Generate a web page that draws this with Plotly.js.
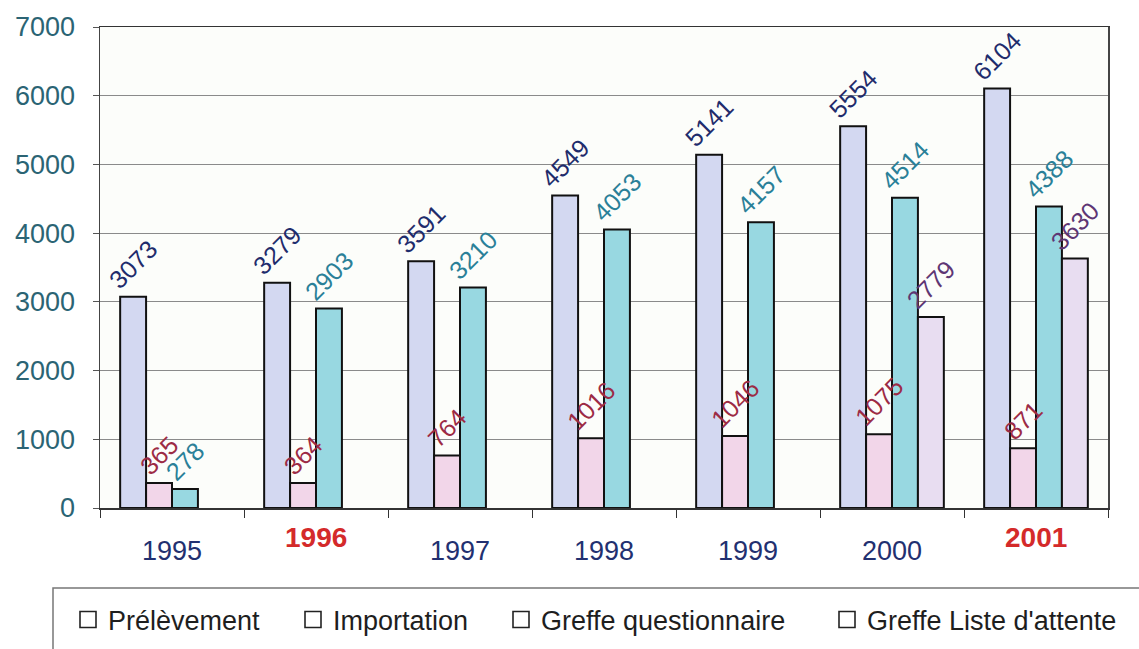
<!DOCTYPE html>
<html>
<head>
<meta charset="utf-8">
<script src="https://cdn.plot.ly/plotly-3.0.1.min.js"></script>
<style>
  html, body { margin: 0; padding: 0; background: #ffffff; }
  #chart { width: 1139px; height: 649px; }
</style>
</head>
<body>
<div id="chart"></div>
<script>
const years = ['1995', '1996', '1997', '1998', '1999', '2000', '2001'];
const highlightedYears = ['1996', '2001'];
const prelevement = [3073, 3279, 3591, 4549, 5141, 5554, 6104];
const importation = [365, 364, 764, 1016, 1046, 1075, 871];
const greffeQuestionnaire = [278, 2903, 3210, 4053, 4157, 4514, 4388];
const greffeListe = [null, null, null, null, null, 2779, 3630];
const seriesNames = ['Prélèvement', 'Importation', 'Greffe questionnaire', "Greffe Liste d'attente"];
const yTicks = [0, 1000, 2000, 3000, 4000, 5000, 6000, 7000];

const FONT = 'Liberation Sans, Arial, Helvetica, sans-serif';

// normal years as tick labels; highlighted years drawn as raised bold annotations
const tickText = years.map(y => highlightedYears.includes(y) ? '' : y);

const fills = ['#d3d8f1', '#f2d6e9', '#98d8e1', '#e8ddf1'];
const textColors = ['#1f2c6c', '#9c2b45', '#2a8098', '#5e3674'];
const values = [prelevement, importation, greffeQuestionnaire, greffeListe];

// slot layout inside each category (4 side-by-side slots)
const slotWidth = 0.18;
const slotStart = -0.36;
// drawing order: Importation last so its labels sit on top of neighbouring bars
const drawOrder = [0, 2, 3, 1];

const traces = drawOrder.map(i => ({
  type: 'bar',
  x: years,
  y: values[i],
  name: seriesNames[i],
  showlegend: false,
  width: slotWidth,
  offset: slotStart + i * slotWidth,
  marker: { color: fills[i], line: { color: '#111111', width: 2 } },
  texttemplate: '%{y}',
  textposition: 'outside',
  textangle: -45,
  constraintext: 'none',
  cliponaxis: false,
  textfont: { family: FONT, size: 25, color: textColors[i] },
  hoverinfo: 'x+y+name'
}));

// legend entries: hollow squares like the original, one legend per entry for spacing
const legendIds = ['legend', 'legend2', 'legend3', 'legend4'];
seriesNames.forEach((n, i) => traces.push({
  type: 'scatter',
  mode: 'markers',
  x: [null], y: [null],
  name: n,
  legend: legendIds[i],
  showlegend: true,
  marker: { symbol: 'square-open', size: 16, color: '#222222', line: { width: 1.6 } },
  hoverinfo: 'skip'
}));

const W = 1139, H = 649;
const plotL = 100, plotR = 1108, plotT = 27, plotB = 508;
const pw = plotR - plotL, ph = plotB - plotT;
const px2x = p => (p - plotL) / pw;
const px2y = p => (plotB - p) / ph;

const legendLeftPx = [68, 293, 501, 827];
const legendBase = {
  orientation: 'h',
  xref: 'container',
  yref: 'container',
  xanchor: 'left',
  y: 1 - 620 / H,
  yanchor: 'middle',
  bgcolor: 'rgba(0,0,0,0)',
  borderwidth: 0,
  font: { size: 27, color: '#1e1e1e', family: FONT },
  itemwidth: 30
};

const layout = {
  width: W,
  height: H,
  margin: { l: plotL, r: W - plotR, t: plotT, b: H - plotB },
  paper_bgcolor: '#ffffff',
  plot_bgcolor: '#fcfdfa',
  barmode: 'overlay',
  font: { family: FONT, color: '#222' },
  xaxis: {
    type: 'category',
    categoryorder: 'array',
    categoryarray: years,
    range: [-0.5, years.length - 0.5],
    tickvals: years,
    ticktext: tickText,
    tickson: 'boundaries',
    ticks: 'outside',
    ticklen: 8,
    tickcolor: '#333',
    showline: true,
    linecolor: '#333',
    linewidth: 1.5,
    mirror: true,
    showgrid: false,
    ticklabelstandoff: 18,
    tickfont: { size: 27, family: FONT, color: '#223070' }
  },
  yaxis: {
    range: [0, 7000],
    tickvals: yTicks,
    ticks: 'outside',
    ticklen: 6,
    tickcolor: '#555',
    showline: true,
    linecolor: '#444',
    linewidth: 1.5,
    mirror: true,
    showgrid: true,
    gridcolor: '#8a8a8a',
    gridwidth: 1,
    zeroline: false,
    ticklabelstandoff: 12,
    tickfont: { size: 27, color: '#2b6474', family: FONT }
  },
  annotations: highlightedYears.map(y => ({
    x: years.indexOf(y),
    xref: 'x',
    y: px2y(537),
    yref: 'paper',
    yanchor: 'middle',
    xanchor: 'center',
    showarrow: false,
    text: '<b>' + y + '</b>',
    font: { size: 28, color: '#d42a2a', family: FONT }
  })),
  shapes: [{
    type: 'rect',
    xref: 'paper', yref: 'paper',
    x0: px2x(53), x1: px2x(1150),
    y0: px2y(588), y1: px2y(660),
    line: { color: '#777777', width: 1.5 },
    fillcolor: 'rgba(0,0,0,0)',
    layer: 'below'
  }]
};

legendIds.forEach((id, i) => {
  layout[id] = Object.assign({}, legendBase, { x: legendLeftPx[i] / W });
});

Plotly.newPlot('chart', traces, layout, { displayModeBar: false, staticPlot: true });
</script>
</body>
</html>
